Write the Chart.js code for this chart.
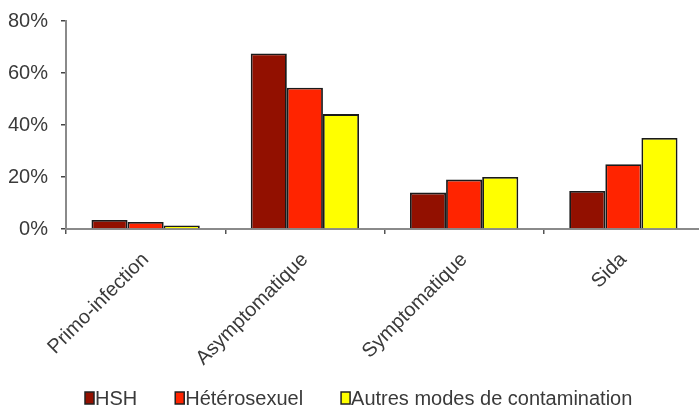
<!DOCTYPE html>
<html>
<head>
<meta charset="utf-8">
<script src="https://cdn.jsdelivr.net/npm/chart.js@4/dist/chart.umd.min.js"></script>
<style>
html,body{margin:0;padding:0;background:#fff;overflow:hidden;width:699px;height:408px;}
canvas{display:block;}
</style>
</head>
<body>
<canvas id="c" width="704" height="408"></canvas>
<script>
const categories = ["Primo-infection", "Asymptomatique", "Symptomatique", "Sida"];
const seriesNames = ["HSH", "Hétérosexuel", "Autres modes de contamination"];
const hsh = [3.5, 67.5, 14, 14.6];
const hetero = [2.7, 54.3, 19, 24.9];
const autres = [1.3, 44.2, 20, 35];
const yTicks = [0, 20, 40, 60, 80];
const colors = ["#921000", "#FF2400", "#FFFF00"];

const FONT = "'Liberation Sans', Arial, sans-serif";
const TEXT = "#3a3a3a";

const customLegend = {
  id: 'customLegend',
  afterDraw(chart) {
    const ctx = chart.ctx;
    ctx.save();
    ctx.font = "20px " + FONT;
    ctx.textBaseline = 'middle';
    ctx.textAlign = 'left';
    let x = 85;
    const yc = 398;
    chart.data.datasets.forEach((ds) => {
      ctx.fillStyle = ds.backgroundColor;
      ctx.fillRect(x, yc - 6, 9, 12);
      ctx.strokeStyle = '#222';
      ctx.lineWidth = 1.5;
      ctx.strokeRect(x, yc - 6, 9, 12);
      ctx.fillStyle = TEXT;
      ctx.fillText(ds.label, x + 10, yc + 1);
      x += 10 + ctx.measureText(ds.label).width + 38;
    });
    ctx.restore();
  }
};

const values = [hsh, hetero, autres];
new Chart(document.getElementById('c'), {
  type: 'bar',
  data: {
    labels: categories,
    datasets: seriesNames.map((n, i) => ({
      label: n,
      data: values[i],
      backgroundColor: colors[i],
      borderColor: '#1a1a1a',
      borderWidth: 1.8,
      categoryPercentage: 0.68,
      barPercentage: 1.0
    }))
  },
  options: {
    responsive: false,
    animation: false,
    layout: { padding: { top: 21, right: 1, bottom: 0, left: 0 } },
    plugins: { legend: { display: false }, tooltip: { enabled: false } },
    scales: {
      x: {
        grid: { display: true, drawOnChartArea: false, drawTicks: true, tickLength: 5, color: '#555', lineWidth: 1.5, offset: true },
        border: { display: true, color: '#8a8a8a', width: 2 },
        ticks: { color: TEXT, font: { family: FONT, size: 20 }, minRotation: 45, maxRotation: 45, padding: 14, autoSkip: false },
        afterFit(scale) { scale.height = 179; scale.paddingLeft = 0; scale.paddingRight = 0; }
      },
      y: {
        min: 0, max: 80,
        afterBuildTicks(scale) { scale.ticks = yTicks.map(v => ({ value: v })); },
        grid: { display: true, drawOnChartArea: false, drawTicks: true, tickLength: 5, color: '#444', lineWidth: 1.5 },
        border: { display: true, color: '#8a8a8a', width: 2 },
        ticks: { color: TEXT, font: { family: FONT, size: 20 }, padding: 13, callback: v => v + '%' },
        afterFit(scale) { scale.width = 66; scale.paddingTop = 0; scale.paddingBottom = 0; }
      }
    }
  },
  plugins: [customLegend]
});
</script>
</body>
</html>
